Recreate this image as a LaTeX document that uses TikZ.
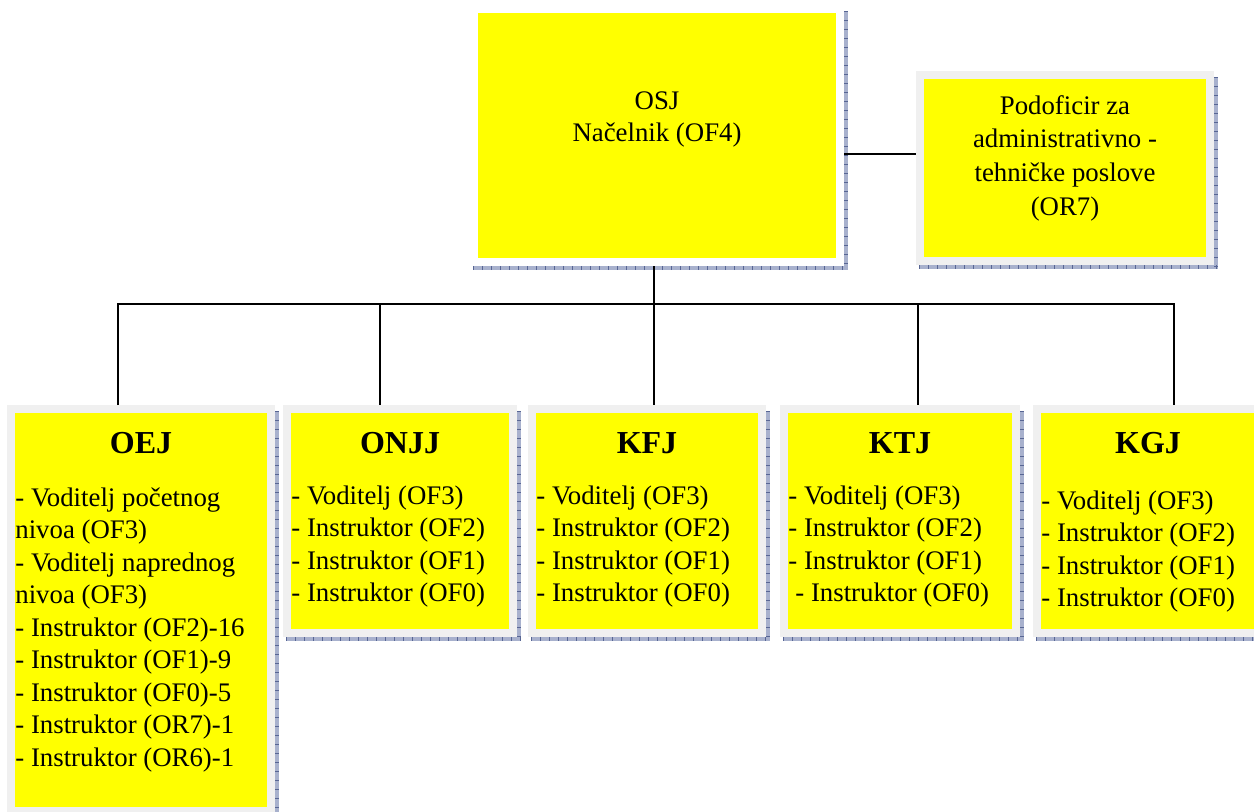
\documentclass[tikz,border=0pt]{standalone}
\usepackage{fontspec}
\setmainfont{Liberation Serif}
\usetikzlibrary{fit,backgrounds}

\definecolor{boxyellow}{RGB}{255,255,0}
\definecolor{framegray}{RGB}{240,240,240}
\definecolor{shadelight}{RGB}{168,177,205}
\definecolor{shadedark}{RGB}{88,102,148}

\tikzset{
  unitbox/.style={rectangle, inner sep=0pt, fill=boxyellow, draw=framegray, line width=4pt},
  headbox/.style={unitbox, draw=white},
  bodytext/.style={anchor=north west, inner sep=0pt, align=left,
    font=\fontsize{13.4}{16.25}\selectfont},
  centertext/.style={anchor=north, inner sep=0pt, align=center,
    font=\fontsize{13.4}{16.3}\selectfont},
  titletext/.style={anchor=base, inner sep=0pt, font=\fontsize{16}{19}\selectfont\bfseries},
  link/.style={line width=1pt, black, line join=miter},
  shadowtick/.style={shadedark, line width=2pt, dash pattern=on 0.5pt off 4pt},
}

% drop shadow to the right of and below a box
\newcommand\castshadow[1]{%
  \fill[shadelight] ([shift={(3,6)}]#1.north west) rectangle ([shift={(4,4)}]#1.south east);
  \draw[shadowtick] ([shift={(2,6)}]#1.north east) -- ([shift={(2,4)}]#1.south east);
  \draw[shadowtick] ([shift={(3,2)}]#1.south west) -- ([shift={(4,2)}]#1.south east);
}

\begin{document}
\begin{tikzpicture}[x=0.5pt, y=-0.5pt]
\useasboundingbox (0,0) rectangle (1254,811);

% boxes
\node[headbox, fit={(474,9) (840,262)}] (OSJ) {};
\node[unitbox, fit={(920,75) (1210,261)}] (POD) {};
\node[unitbox, fit={(11,409) (271,811)}] (OEJ) {};
\node[unitbox, fit={(287,409) (513,633)}] (ONJJ) {};
\node[unitbox, fit={(532,409) (762,633)}] (KFJ) {};
\node[unitbox, fit={(784,409) (1016,633)}] (KTJ) {};
\node[unitbox, fit={(1037,409) (1260,633)}] (KGJ) {};

\begin{scope}[on background layer]
  \fill[white] (0,0) rectangle (1254,811);
  \castshadow{OSJ}
  \castshadow{POD}
  \castshadow{OEJ}
  \castshadow{ONJJ}
  \castshadow{KFJ}
  \castshadow{KTJ}
  \castshadow{KGJ}
\end{scope}

% texts
\node[centertext] (OSJt) at (657,91) {OSJ\\Načelnik (OF4)};
\node[centertext, font=\fontsize{13.4}{16.8}\selectfont] (PODt) at (1065,95) {Podoficir za\\administrativno -\\tehničke poslove\\(OR7)};

\node[titletext] (OEJh) at (141,453) {OEJ};
\node[titletext] (ONJJh) at (400,453) {ONJJ};
\node[titletext] (KFJh) at (647,453) {KFJ};
\node[titletext] (KTJh) at (900,453) {KTJ};
\node[titletext] (KGJh) at (1148,453) {KGJ};

\node[bodytext] (OEJt) at (15,487) {- Voditelj početnog\\nivoa (OF3)\\- Voditelj naprednog\\nivoa (OF3)\\- Instruktor (OF2)-16\\- Instruktor (OF1)-9\\- Instruktor (OF0)-5\\- Instruktor (OR7)-1\\- Instruktor (OR6)-1};
\node[bodytext] (ONJJt) at (291,485) {- Voditelj (OF3)\\- Instruktor (OF2)\\- Instruktor (OF1)\\- Instruktor (OF0)};
\node[bodytext] (KFJt) at (536,485) {- Voditelj (OF3)\\- Instruktor (OF2)\\- Instruktor (OF1)\\- Instruktor (OF0)};
\node[bodytext] (KTJt) at (788,485) {- Voditelj (OF3)\\- Instruktor (OF2)\\- Instruktor (OF1)\\\hspace*{3.5pt}- Instruktor (OF0)};
\node[bodytext] (KGJt) at (1041,490) {- Voditelj (OF3)\\- Instruktor (OF2)\\- Instruktor (OF1)\\- Instruktor (OF0)};

% connectors
\coordinate (busL) at (118,304);
\coordinate (busB) at (380,304);
\coordinate (busM) at (654,304);
\coordinate (busD) at (918,304);
\coordinate (busR) at (1174,304);
\coordinate (sideY) at (0,154);

\draw[link] (OSJ.east |- sideY) -- (POD.west |- sideY);
\draw[link] (busM |- OSJ.south) -- (busM);
\draw[link] (busL |- OEJ.north) -- (busL) -- (busR) -- (busR |- KGJ.north);
\draw[link] (busB) -- (busB |- ONJJ.north);
\draw[link] (busM) -- (busM |- KFJ.north);
\draw[link] (busD) -- (busD |- KTJ.north);
\end{tikzpicture}
\end{document}
